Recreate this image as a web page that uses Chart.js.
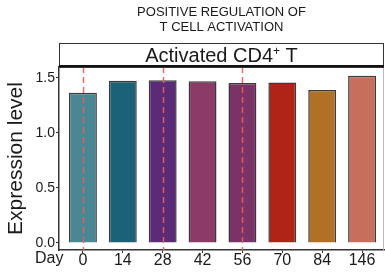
<!DOCTYPE html>
<html><head><meta charset="utf-8">
<script src="https://cdn.jsdelivr.net/npm/chart.js@4.4.1/dist/chart.umd.min.js"></script>
<style>html,body{margin:0;padding:0;background:#fff;overflow:hidden}#c{display:block}</style>
</head><body>
<canvas id="c" width="385" height="276"></canvas>
<script>
const days = ['0','14','28','42','56','70','84','146'];
const values = [1.365, 1.475, 1.48, 1.47, 1.455, 1.46, 1.39, 1.52];
const barColors = ['#4A8795','#1C6276','#5B2B78','#8C3A67','#7B3367','#AF2417','#B07025','#C76E5C'];
const markedDays = ['0','28','56'];
const yTicks = [0, 0.5, 1.0, 1.5];
const titleLines = ['POSITIVE REGULATION OF','T CELL ACTIVATION'];
const stripText = ['Activated CD4', '+', ' T'];
const xAxisName = 'Day';
const FONT = "'Liberation Sans', Arial, sans-serif";

const deco = {
  id:'deco',
  afterDatasetsDraw(chart){
    const {ctx, chartArea:a, scales:{x}} = chart;
    ctx.save();
    ctx.strokeStyle = 'rgba(232,95,90,0.9)';
    ctx.lineWidth = 1.5;
    ctx.setLineDash([6,4]);
    markedDays.forEach(d=>{
      const px = Math.round(x.getPixelForValue(days.indexOf(d)))+0.5;
      ctx.beginPath(); ctx.moveTo(px, a.top); ctx.lineTo(px, a.bottom); ctx.stroke();
    });
    ctx.restore();
  },
  afterDraw(chart){
    const {ctx, chartArea:a, scales:{x}} = chart;
    ctx.save();
    ctx.strokeStyle = '#bbbbbb'; ctx.lineWidth = 1;
    ctx.beginPath(); ctx.moveTo(a.right-0.5, a.top); ctx.lineTo(a.right-0.5, a.bottom); ctx.stroke();
    const sTop = a.top - 24;
    ctx.strokeStyle = '#333'; ctx.lineWidth = 1;
    ctx.strokeRect(a.left+0.5, sTop+0.5, a.right-a.left-1, 24);
    ctx.strokeStyle = '#111'; ctx.lineWidth = 2;
    ctx.beginPath(); ctx.moveTo(a.left, a.top-1); ctx.lineTo(a.right, a.top-1); ctx.stroke();
    ctx.fillStyle = '#1a1a1a';
    ctx.textBaseline = 'alphabetic';
    const big = '20px ' + FONT, small = '12px ' + FONT;
    ctx.font = big; const w0 = ctx.measureText(stripText[0]).width;
    ctx.font = small; const w1 = ctx.measureText(stripText[1]).width;
    ctx.font = big; const w2 = ctx.measureText(stripText[2]).width;
    const cx = (a.left + a.right)/2;
    const sx = cx - (w0+w1+w2)/2;
    const base = sTop + 19;
    ctx.textAlign = 'left';
    ctx.font = big; ctx.fillText(stripText[0], sx, base);
    ctx.font = small; ctx.fillText(stripText[1], sx+w0, base-7);
    ctx.font = big; ctx.fillText(stripText[2], sx+w0+w1, base);
    ctx.font = '13px ' + FONT;
    ctx.textAlign = 'center';
    ctx.textBaseline = 'middle';
    ctx.fillText(titleLines[0], cx, 12);
    ctx.fillText(titleLines[1], cx, 27);
    // x axis name
    ctx.font = '16px ' + FONT;
    ctx.textAlign = 'left';
    ctx.fillText(xAxisName, 35, x.top + 9);
    ctx.restore();
  }
};

new Chart(document.getElementById('c'), {
  type:'bar',
  data:{
    datasets:[{
      data: values.map((v,i)=>({x:i, y:v})),
      backgroundColor: barColors,
      borderColor: '#3a3a3a',
      borderWidth: 1.5,
      barPercentage: 0.7,
      categoryPercentage: 1.0
    }]
  },
  options:{
    responsive:false, animation:false,
    layout:{padding:{top:67, right:1, left:0, bottom:0}},
    plugins:{legend:{display:false}, tooltip:{enabled:false}},
    scales:{
      x:{
        type:'linear', min:-0.6, max:7.55, offset:false,
        afterBuildTicks(s){ s.ticks = days.map((d,i)=>({value:i})); },
        afterFit(s){ s.height = 26; },
        ticks:{ callback:(v)=>days[v], color:'#1a1a1a', font:{size:16, family:FONT}, padding:-2, maxRotation:0, autoSkip:false },
        grid:{ offset:false, drawOnChartArea:false, drawTicks:true, tickLength:3, color:'#333' },
        border:{ display:true, color:'#333', width:1.5 }
      },
      y:{
        min:-0.064, max:1.6,
        afterBuildTicks(s){ s.ticks = yTicks.map(v=>({value:v})); },
        afterFit(s){ s.width = 59; },
        ticks:{ callback:(v)=>v.toFixed(1), color:'#1a1a1a', font:{size:14, family:FONT}, padding:1 },
        grid:{ drawOnChartArea:false, drawTicks:true, tickLength:3, color:'#333' },
        border:{ display:true, color:'#333', width:1.5 },
        title:{ display:true, text:'Expression level', color:'#1a1a1a', font:{size:21, family:FONT}, padding:{top:4,bottom:0} }
      }
    }
  },
  plugins:[deco]
});
</script>
</body></html>
